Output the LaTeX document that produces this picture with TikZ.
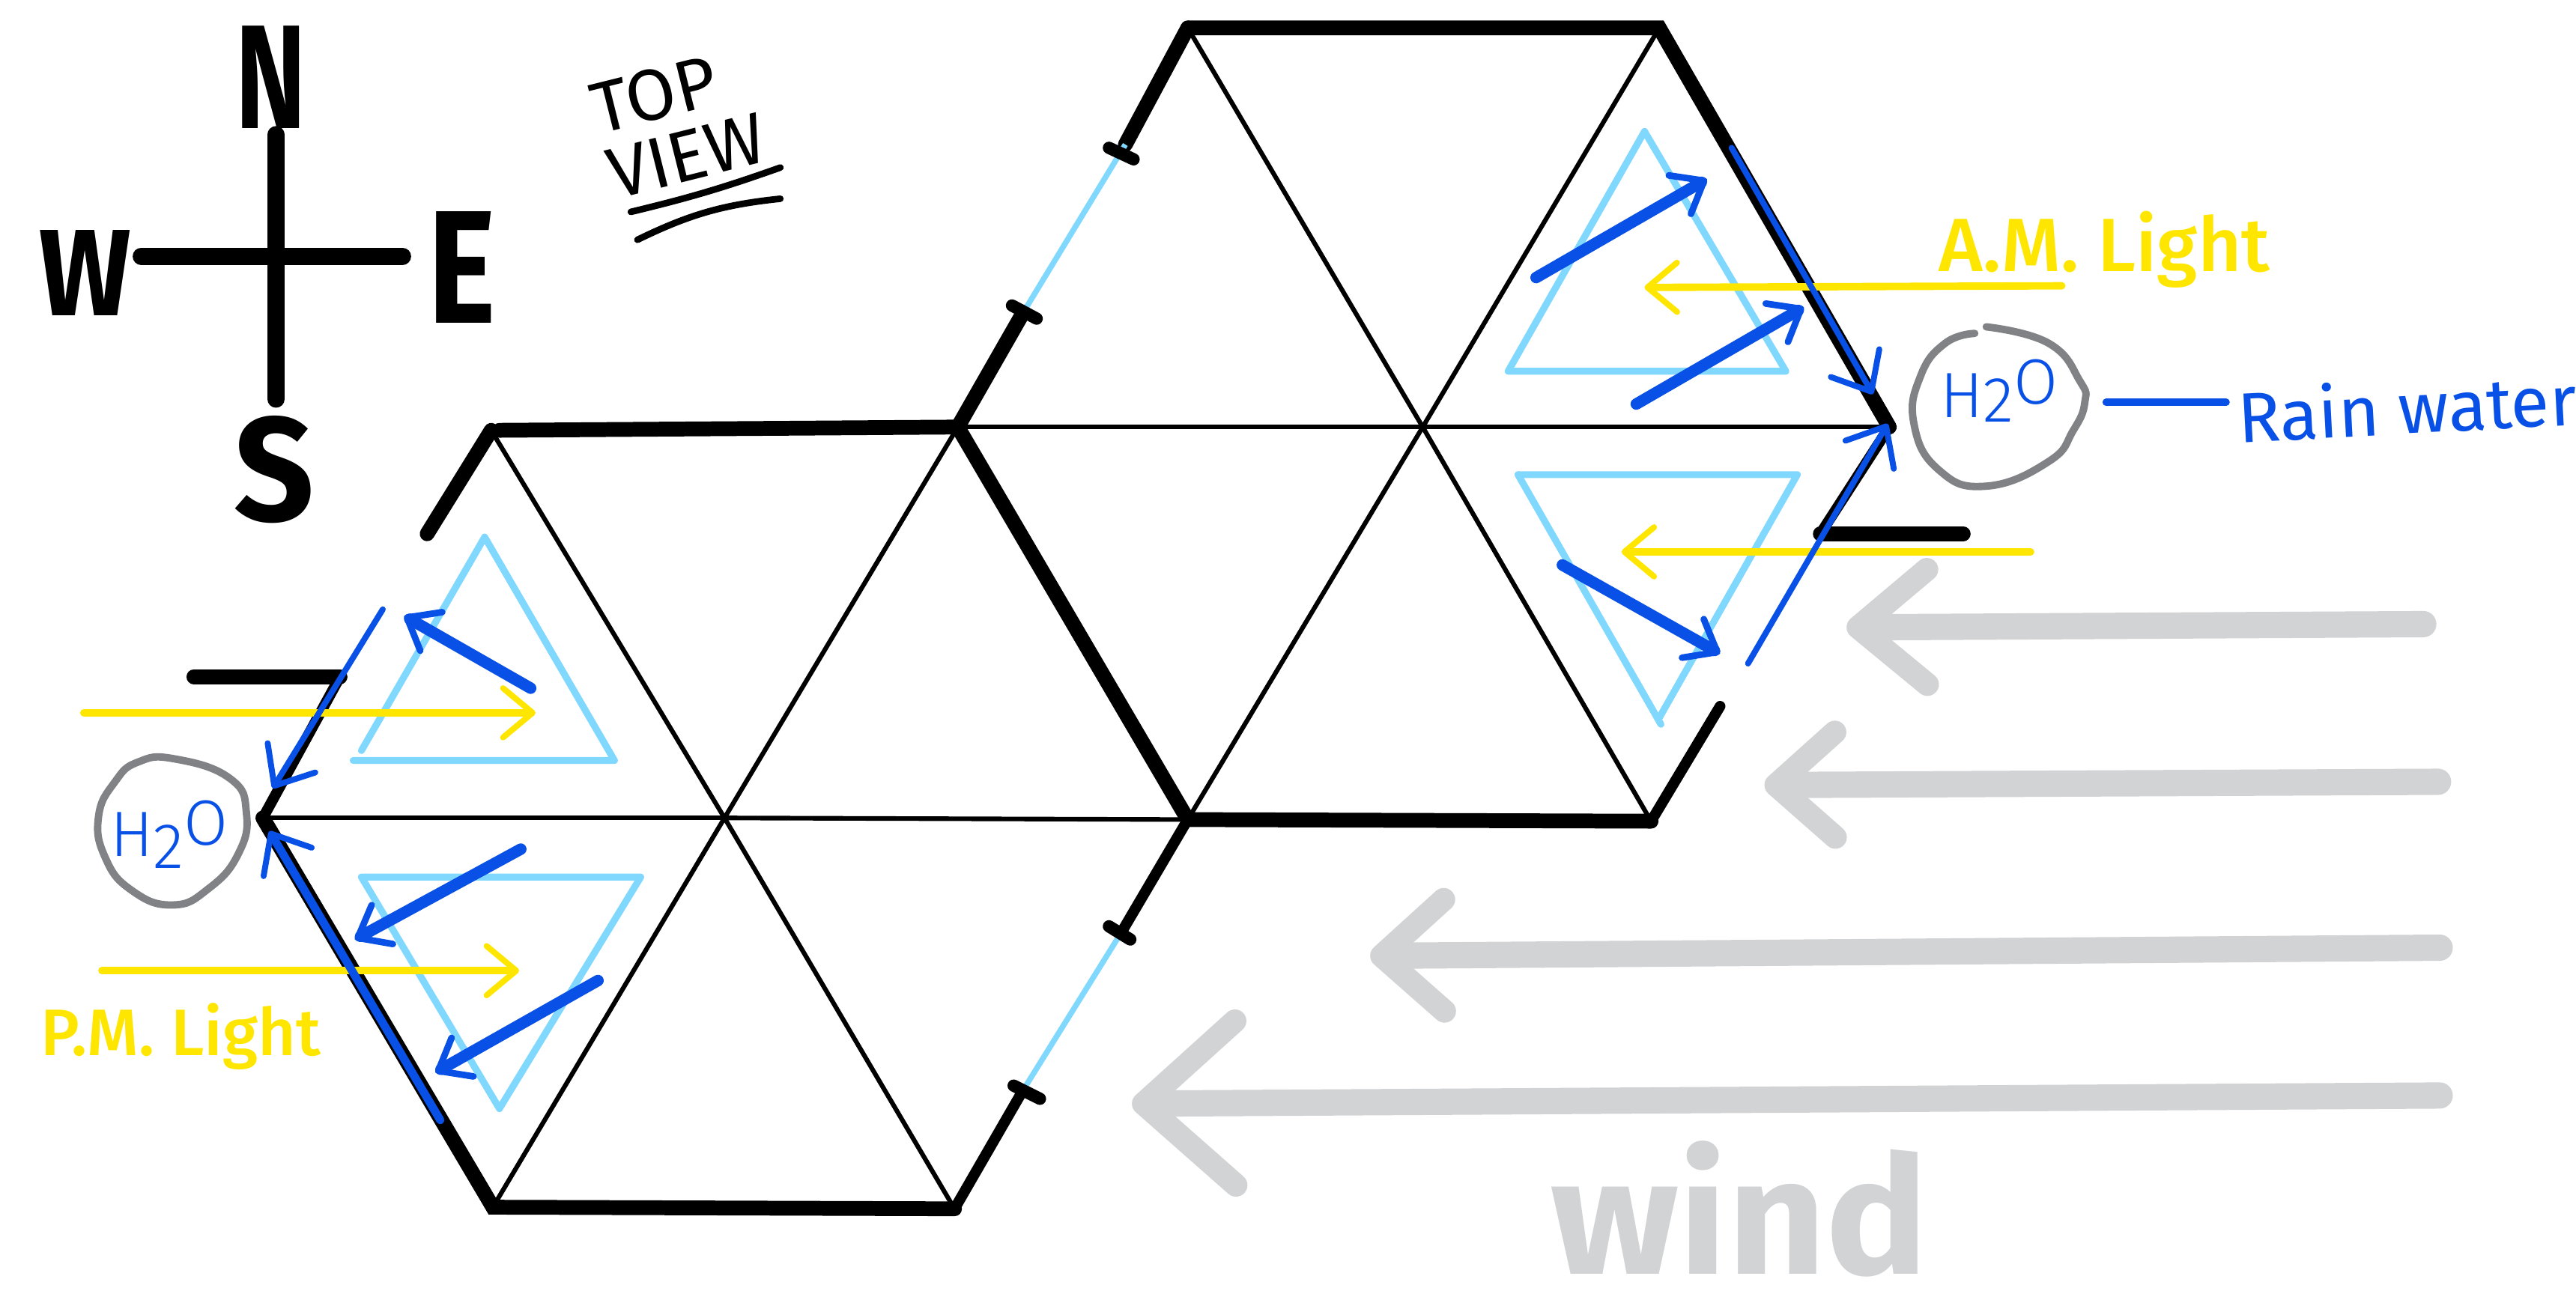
\documentclass[tikz,border=0pt]{standalone}
\usepackage{fontspec}
\setmainfont{Fira Sans}
\newfontfamily\lightfont{Fira Sans Light}
\newfontfamily\mediumfont{Fira Sans Medium}
\usepackage{tikz}
\usetikzlibrary{arrows.meta}
\definecolor{rainblue}{RGB}{8,80,230}
\definecolor{paleblue}{RGB}{128,216,255}
\definecolor{sunyellow}{RGB}{255,230,0}
\definecolor{ringgray}{RGB}{128,130,133}
\definecolor{windgray}{RGB}{209,211,212}
\newcommand{\fsize}[1]{\fontsize{#1}{#1}\selectfont}

\begin{document}
\begin{tikzpicture}[
    x=1pt, y=-1pt,
    every node/.style={inner sep=0pt},
    spoke/.style={draw=black, line width=2.8pt},
    wall/.style={draw=black, line width=9pt, line cap=round},
    thinwall/.style={draw=black, line width=6.5pt, line cap=round},
    tickmark/.style={draw=black, line width=7.5pt, line cap=round},
    opening/.style={draw=paleblue, line width=3.4pt},
    module/.style={draw=paleblue, line width=4.2pt, line cap=round, line join=round},
    bounce/.style={draw=rainblue, line width=7pt, line cap=round, -{Straight Barb[round, length=17pt, width=27pt, line width=4pt]}},
    runoff/.style={draw=rainblue, line width=3.6pt, line cap=round, -{Straight Barb[round, length=20pt, width=34pt, line width=3.6pt]}},
    sunray/.style={draw=sunyellow, line width=4.5pt, line cap=round, -{Straight Barb[round, length=18pt, width=30pt, line width=3.6pt]}},
    windstroke/.style={draw=windgray, line width=16pt, line cap=round, line join=round},
    ring/.style={draw=ringgray, line width=4.5pt, line cap=round},
    compass/.style={font=\fsize{90}\bfseries, black},
    sunlabel/.style={font=\fsize{40}\mediumfont, text=sunyellow},
    rainlabel/.style={font=\fsize{43}, text=rainblue},
    waterlabel/.style={font=\fsize{39}\lightfont, text=rainblue}
]
    \useasboundingbox (0,0) rectangle (1568,785.6);

    % Hexagon vertices
    \coordinate (upNW) at (723,17);
    \coordinate (upNE) at (1010,17);
    \coordinate (upE) at (1150,260);
    \coordinate (upSE) at (1005,500);
    \coordinate (midS) at (723,499);
    \coordinate (midN) at (583,260);
    \coordinate (upC) at (866,260);
    \coordinate (lowNW) at (299,262);
    \coordinate (lowW) at (160,498);
    \coordinate (lowSW) at (300,735);
    \coordinate (lowSE) at (581,736);
    \coordinate (lowC) at (441,498);

    % Spokes
    \draw[spoke] (upC) -- (upNW);
    \draw[spoke] (upC) -- (upNE);
    \draw[spoke] (upC) -- (upE);
    \draw[spoke] (upC) -- (upSE);
    \draw[spoke] (upC) -- (midS);
    \draw[spoke] (upC) -- (midN);
    \draw[spoke] (lowC) -- (lowNW);
    \draw[spoke] (lowC) -- (midN);
    \draw[spoke] (lowC) -- (midS);
    \draw[spoke] (lowC) -- (lowSE);
    \draw[spoke] (lowC) -- (lowSW);
    \draw[spoke] (lowC) -- (lowW);

    % Wall ends
    \coordinate (openA) at (685,88);
    \coordinate (openB) at (623,190);
    \coordinate (openC) at (683,567);
    \coordinate (openD) at (622,665);
    \coordinate (eastEnd) at (1108,325);
    \coordinate (eastStub) at (1195,325);
    \coordinate (seEnd) at (1047,430);
    \coordinate (westEnd) at (207,412);
    \coordinate (westStub) at (118,412);
    \coordinate (nwEnd) at (260,325);
    \coordinate (nwStart) at (304,262);

    % Walls
    \draw[wall] (upNW) -- (upNE) -- (upE);
    \draw[wall] (upNW) -- (openA);
    \draw[wall] (openB) -- (midN);
    \draw[wall] (midN) -- (midS) -- (upSE);
    \draw[thinwall] (upSE) -- (seEnd);
    \draw[thinwall] (upE) -- (eastEnd);
    \draw[wall] (eastEnd) -- (eastStub);
    \draw[thinwall] (midS) -- (openC);
    \draw[thinwall] (openD) -- (lowSE);
    \draw[wall] (lowSE) -- (lowSW) -- (lowW);
    \draw[thinwall] (lowW) -- (westEnd);
    \draw[wall] (westEnd) -- (westStub);
    \draw[wall] (lowNW) -- (nwEnd);
    \draw[wall] (nwStart) -- (midN);

    % Openings and their end marks
    \draw[opening] (openA) -- (openB);
    \draw[opening] (openC) -- (openD);
    \coordinate (tickAa) at (675,90);
    \coordinate (tickAb) at (690,97);
    \coordinate (tickBa) at (616,186);
    \coordinate (tickBb) at (631,194);
    \coordinate (tickCa) at (675,564);
    \coordinate (tickCb) at (688,572);
    \coordinate (tickDa) at (617,661);
    \coordinate (tickDb) at (633,669);
    \draw[tickmark] (tickAa) -- (tickAb);
    \draw[tickmark] (tickBa) -- (tickBb);
    \draw[tickmark] (tickCa) -- (tickCb);
    \draw[tickmark] (tickDa) -- (tickDb);

    % Modules
    \draw[module] (1001,80) -- (918,226) -- (1087,226) -- cycle;
    \draw[module] (924,289) -- (1094,289) -- (1010,437);
    \draw[module] (924,289) -- (1011,441);
    \draw[module] (220,457) -- (295,327) -- (374,463) -- (215,463);
    \draw[module] (220,534) -- (390,534) -- (304,675) -- cycle;

    % Light
    \coordinate (amA) at (1255,174);
    \coordinate (amAt) at (1001,175);
    \coordinate (amB) at (1236,336);
    \coordinate (amBt) at (987,336);
    \coordinate (pmA) at (51,434);
    \coordinate (pmAt) at (326,434);
    \coordinate (pmB) at (62,591);
    \coordinate (pmBt) at (316,591);
    \draw[sunray] (amA) -- (amAt);
    \draw[sunray] (amB) -- (amBt);
    \draw[sunray] (pmA) -- (pmAt);
    \draw[sunray] (pmB) -- (pmBt);

    % Rain
    \coordinate (rainA) at (935,169);
    \coordinate (rainAt) at (1039,109);
    \coordinate (rainB) at (996,246);
    \coordinate (rainBt) at (1098,187);
    \coordinate (rainC) at (951,344);
    \coordinate (rainCt) at (1047,398);
    \coordinate (rainD) at (323,419);
    \coordinate (rainDt) at (246,375);
    \coordinate (rainE) at (317,517);
    \coordinate (rainEt) at (216,572);
    \coordinate (rainF) at (364,597);
    \coordinate (rainFt) at (265,653);
    \draw[bounce] (rainA) -- (rainAt);
    \draw[bounce] (rainB) -- (rainBt);
    \draw[bounce] (rainC) -- (rainCt);
    \draw[bounce] (rainD) -- (rainDt);
    \draw[bounce] (rainE) -- (rainEt);
    \draw[bounce] (rainF) -- (rainFt);

    % Runoff along the walls
    \coordinate (runA) at (1054,90);
    \coordinate (runAt) at (1140,240);
    \coordinate (runB) at (1064,404);
    \coordinate (runBt) at (1149,258);
    \coordinate (runC) at (233,371);
    \coordinate (runCt) at (166,480);
    \coordinate (runD) at (268,682);
    \coordinate (runDt) at (164,506);
    \draw[runoff] (runA) -- (runAt);
    \draw[runoff] (runB) -- (runBt);
    \draw[runoff] (runC) -- (runCt);
    \draw[runoff, line width=5pt] (runD) -- (runDt);

    % Water
    \draw[ring] plot[smooth, tension=.8] coordinates {(1209,199) (1247,209) (1266,232) (1269,245) (1262,262) (1247,281) (1209,296) (1180,286) (1165,258) (1169,229) (1184,209) (1202,203)};
    \draw[ring] plot[smooth cycle, tension=.8] coordinates {(84,464) (106,462) (140,474) (150,495) (145,520) (127,541) (105,551) (80,542) (64,522) (60,497) (70,476)};
    \node[waterlabel] (waterE) at (1217,238) {H\raisebox{-3pt}{2}\raisebox{8pt}{O}};
    \node[waterlabel] (waterW) at (103,508) {H\raisebox{-7pt}{2}\raisebox{7pt}{O}};

    % Labels
    \node[sunlabel, font=\fsize{46}\mediumfont] (amlight) at (1281,152) {A.M. Light};
    \node[sunlabel] (pmlight) at (110,631) {P.M. Light};
    \coordinate (waterTie) at (1282,245);
    \coordinate (waterTieEnd) at (1355,245);
    \node[rainlabel, anchor=west, rotate=3] (rainlabel) at (1362,253) {Rain water};
    \draw[rainblue, line width=4.5pt, line cap=round] (waterTie) -- (waterTieEnd);

    % Wind
    \coordinate (windA) at (1475,380);
    \coordinate (windAt) at (1124,382);
    \coordinate (windB) at (1484,476);
    \coordinate (windBt) at (1074,478);
    \coordinate (windC) at (1485,577);
    \coordinate (windCt) at (834,582);
    \coordinate (windD) at (1485,667);
    \coordinate (windDt) at (689,672);
    \draw[windstroke, -{Straight Barb[round, length=42pt, width=70pt, line width=14pt]}] (windA) -- (windAt);
    \draw[windstroke, -{Straight Barb[round, length=36pt, width=64pt, line width=14pt]}] (windB) -- (windBt);
    \draw[windstroke, -{Straight Barb[round, length=38pt, width=68pt, line width=14pt]}] (windC) -- (windCt);
    \draw[windstroke, -{Straight Barb[round, length=56pt, width=100pt, line width=14pt]}] (windD) -- (windDt);
    \node[font=\fsize{100}\bfseries, text=windgray, xscale=1.04, anchor=base] (windword) at (1059,776) {wind};

    % Compass
    \node[compass, xscale=.72] (north) at (165,47) {N};
    \node[compass, font=\fsize{75}\bfseries, xscale=.88] (west) at (52,166) {W};
    \node[compass, font=\fsize{98}\bfseries, xscale=.8] (east) at (281,163) {E};
    \node[compass, xscale=.95] (south) at (167,286) {S};
    \coordinate (crossN) at (168,82);
    \coordinate (crossS) at (168,243);
    \coordinate (crossW) at (86,156);
    \coordinate (crossE) at (245,156);
    \draw[line width=10.5pt, line cap=round] (crossN) -- (crossS);
    \draw[line width=10.5pt, line cap=round] (crossW) -- (crossE);

    % Top view
    \node[font=\fsize{44}, rotate=14, align=left, text width=112pt] (topview) at (420,73) {TOP\\[-3pt]VIEW};
    \coordinate (lineAa) at (384,129);
    \coordinate (lineAb) at (475,102);
    \coordinate (lineBa) at (388,146);
    \coordinate (lineBb) at (475,121);
    \draw[line width=4pt, line cap=round] (lineAa) to[bend right=3] (lineAb);
    \draw[line width=4pt, line cap=round] (lineBa) to[bend left=10] (lineBb);
\end{tikzpicture}
\end{document}
